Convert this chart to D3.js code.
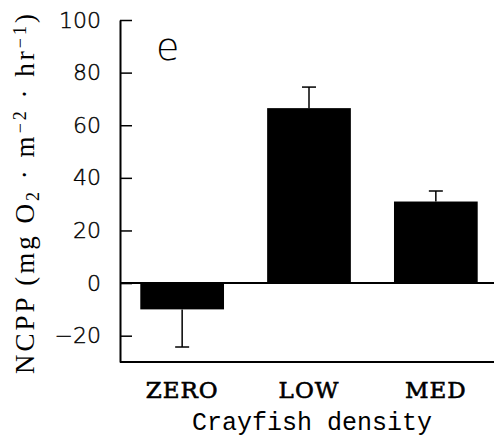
<!DOCTYPE html>
<html>
<head>
<meta charset="utf-8">
<script src="https://cdn.jsdelivr.net/npm/d3@7"></script>
<style>
  body { margin: 0; background: #fff; }
  svg { display: block; }
</style>
</head>
<body>
<svg id="chart" width="494" height="443"></svg>
<script>
const categories = ['ZERO', 'LOW', 'MED'];
const means = [-10, 66.5, 31];
const stdErrors = [14.3, 8, 4];
const yTicks = [-20, 0, 20, 40, 60, 80, 100];

const width = 494, height = 443;
const margin = { top: 20, right: 0, bottom: 81, left: 120 };

const svg = d3.select('#chart');

const x = d3.scaleBand()
  .domain(categories)
  .range([margin.left, 498])
  .paddingInner(0.34)
  .paddingOuter(0.16);

const y = d3.scaleLinear()
  .domain([-30, 100])
  .range([height - margin.bottom, margin.top]);

// y axis, ticks pointing inward
const yAxis = svg.append('g')
  .attr('transform', `translate(${margin.left},0)`)
  .call(d3.axisLeft(y).tickValues(yTicks).tickSizeInner(-12).tickSizeOuter(0).tickPadding(19));
yAxis.select('.domain').attr('stroke-width', 2);
yAxis.selectAll('.tick line').attr('stroke-width', 1.5);
yAxis.selectAll('.tick text')
  .attr('font-family', 'DejaVu Sans')
  .attr('font-weight', 200)
  .attr('font-size', 22)
  .attr('fill', '#000')
  .attr('stroke', '#000')
  .attr('stroke-width', 0.4);

// bottom axis line
svg.append('line')
  .attr('x1', margin.left).attr('x2', width)
  .attr('y1', y(-30)).attr('y2', y(-30))
  .attr('stroke', '#000').attr('stroke-width', 2);

// zero line
svg.append('line')
  .attr('x1', margin.left).attr('x2', width)
  .attr('y1', y(0)).attr('y2', y(0))
  .attr('stroke', '#000').attr('stroke-width', 2);

const data = categories.map((c, i) => ({ cat: c, mean: means[i], se: stdErrors[i] }));

// error bars (one-sided, away from zero)
const eb = svg.append('g').selectAll('g').data(data).enter().append('g');
eb.append('line')
  .attr('x1', d => x(d.cat) + x.bandwidth() / 2)
  .attr('x2', d => x(d.cat) + x.bandwidth() / 2)
  .attr('y1', d => y(d.mean))
  .attr('y2', d => y(d.mean + Math.sign(d.mean) * d.se))
  .attr('stroke', '#000').attr('stroke-width', 1.5);
eb.append('line')
  .attr('x1', d => x(d.cat) + x.bandwidth() / 2 - 7)
  .attr('x2', d => x(d.cat) + x.bandwidth() / 2 + 7)
  .attr('y1', d => y(d.mean + Math.sign(d.mean) * d.se))
  .attr('y2', d => y(d.mean + Math.sign(d.mean) * d.se))
  .attr('stroke', '#000').attr('stroke-width', 1.5);

// bars
svg.append('g').selectAll('rect').data(data).enter().append('rect')
  .attr('x', d => x(d.cat))
  .attr('width', x.bandwidth())
  .attr('y', d => y(Math.max(0, d.mean)))
  .attr('height', d => Math.abs(y(d.mean) - y(0)))
  .attr('fill', '#000');

// category labels
svg.append('g').selectAll('text').data(categories).enter().append('text')
  .attr('x', d => x(d) + x.bandwidth() / 2)
  .attr('y', 398)
  .attr('text-anchor', 'middle')
  .attr('font-family', 'DejaVu Serif')
  .attr('font-size', 23)
  .attr('letter-spacing', 1)
  .attr('stroke', '#000')
  .attr('stroke-width', 0.6)
  .text(d => d);

// x axis title
svg.append('text')
  .attr('x', 312).attr('y', 430)
  .attr('text-anchor', 'middle')
  .attr('font-family', 'Liberation Mono')
  .attr('font-size', 25)
  .text('Crayfish density');

// y axis title
const yt = svg.append('text')
  .attr('transform', 'translate(34,194) rotate(-90)')
  .attr('text-anchor', 'middle')
  .attr('font-family', 'Liberation Serif')
  .attr('font-size', 27)
  .attr('textLength', 360)
  .attr('lengthAdjust', 'spacing');
yt.append('tspan').text('NCPP (mg O');
yt.append('tspan').attr('baseline-shift', '-25%').attr('font-size', 18).text('2');
yt.append('tspan').text(' · m');
yt.append('tspan').attr('baseline-shift', '45%').attr('font-size', 18).text('−2');
yt.append('tspan').text(' · hr');
yt.append('tspan').attr('baseline-shift', '45%').attr('font-size', 18).text('−1');
yt.append('tspan').text(')');

// panel letter
svg.append('text')
  .attr('x', 156).attr('y', 60)
  .attr('font-family', 'DejaVu Sans')
  .attr('font-weight', 200)
  .attr('font-size', 38)
  .text('e');
</script>
</body>
</html>
